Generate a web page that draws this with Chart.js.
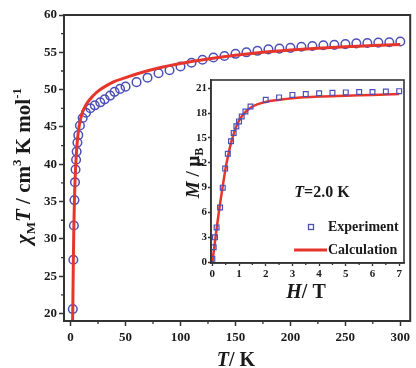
<!DOCTYPE html>
<html>
<head>
<meta charset="utf-8">
<script src="https://cdn.jsdelivr.net/npm/chart.js@4/dist/chart.umd.min.js"></script>
<style>
  html, body { margin: 0; padding: 0; background: #fff; }
  #wrap { position: relative; width: 416px; height: 368px; }
  #main { position: absolute; left: 0; top: 0; }
  #inset { position: absolute; left: 170px; top: 70px; }
</style>
</head>
<body>
<div id="wrap">
  <canvas id="main" width="416" height="368"></canvas>
  <canvas id="inset" width="240" height="235"></canvas>
</div>
<script>
// ---- Main plot: chi_M T vs T ----
const expT   = [2, 2.5, 3, 3.5, 4, 4.5, 5, 5.5, 6.2, 7, 8.5, 11, 14, 18, 22, 27, 31, 36, 40, 45, 50,
                60, 70, 80, 90, 100, 110, 120, 130, 140, 150, 160, 170, 180, 190, 200,
                210, 220, 230, 240, 250, 260, 270, 280, 290, 300];
const expChi = [20.6, 27.2, 31.8, 35.2, 37.6, 39.3, 40.6, 41.7, 42.9, 43.9, 45.2, 46.2, 46.9, 47.5, 47.9, 48.3, 48.7, 49.2, 49.7, 50.1, 50.4,
                51.0, 51.6, 52.2, 52.6, 53.1, 53.6, 54.0, 54.3, 54.5, 54.8, 55.0, 55.2, 55.4, 55.5, 55.6,
                55.75, 55.85, 55.95, 56.0, 56.1, 56.2, 56.25, 56.3, 56.35, 56.45];
const calcT   = [1.8, 2, 2.5, 3, 3.5, 4, 4.5, 5, 6, 7, 8, 10, 12, 15, 20, 25, 30, 40, 50, 60, 80,
                 100, 125, 150, 175, 200, 225, 250, 275, 300];
const calcChi = [19.0, 20.6, 27.0, 31.9, 35.2, 37.6, 39.4, 40.8, 42.9, 44.3, 45.3, 46.6, 47.4, 48.2, 49.1, 49.8, 50.3, 51.1, 51.6, 52.1, 52.9,
                 53.5, 54.1, 54.6, 55.0, 55.3, 55.55, 55.75, 55.9, 56.05];

// ---- Inset: M vs H at 2.0 K ----
const fieldExp = [0, 0.05, 0.1, 0.16, 0.29, 0.39, 0.48, 0.58, 0.7, 0.8, 0.9, 1.0, 1.1, 1.24, 1.43,
                  2, 2.5, 3, 3.5, 4, 4.5, 5, 5.5, 6, 6.5, 7];
const magExp   = [0.4, 1.8, 3.0, 4.2, 6.6, 9.0, 11.3, 13.1, 14.6, 15.6, 16.4, 17.0, 17.6, 18.2, 18.8,
                  19.6, 19.9, 20.2, 20.3, 20.4, 20.45, 20.5, 20.55, 20.55, 20.6, 20.65];
const fieldCalc = [0, 0.1, 0.2, 0.3, 0.4, 0.5, 0.6, 0.7, 0.8, 0.9, 1.0, 1.2, 1.5, 2, 2.5, 3, 4, 5, 6, 7];
const magCalc   = [0, 2.5, 5.0, 7.3, 9.4, 11.4, 13.0, 14.4, 15.5, 16.4, 17.1, 18.0, 18.8, 19.35, 19.6, 19.8, 20.0, 20.1, 20.2, 20.3];

const BLUE = '#4c50b6';
const RED = '#e6352b';
const AXIS = '#333333';
const SERIF = '"Liberation Serif", "Times New Roman", serif';
Chart.defaults.font.family = SERIF;
Chart.defaults.color = '#1a1a1a';

function pts(xs, ys) { return xs.map((x, i) => ({ x: x, y: ys[i] })); }

function drawRich(ctx, x, y, segs) {
  let total = 0;
  segs.forEach(s => { ctx.font = s.f; total += ctx.measureText(s.t).width + (s.gap || 0); });
  let cx = x - total / 2;
  ctx.textBaseline = 'alphabetic';
  ctx.textAlign = 'left';
  segs.forEach(s => {
    ctx.font = s.f;
    ctx.fillText(s.t, cx, y + (s.dy || 0));
    cx += ctx.measureText(s.t).width + (s.gap || 0);
  });
}

function minorTicks(ctx, chart, xs, ys, len) {
  const xa = chart.scales.x, ya = chart.scales.y, a = chart.chartArea;
  ctx.save();
  ctx.strokeStyle = AXIS; ctx.lineWidth = 1.3;
  ctx.beginPath();
  xs.forEach(v => { const p = xa.getPixelForValue(v); ctx.moveTo(p, a.bottom); ctx.lineTo(p, a.bottom + len); });
  ys.forEach(v => { const p = ya.getPixelForValue(v); ctx.moveTo(a.left, p); ctx.lineTo(a.left - len, p); });
  ctx.stroke();
  ctx.restore();
}

function fitX(h) { return s => { s.height = h; s.paddingLeft = 0; s.paddingRight = 0; }; }
function fitY(w) { return s => { s.width = w; s.paddingTop = 0; s.paddingBottom = 0; }; }

const mainExtras = {
  id: 'mainExtras',
  afterDatasetsDraw(chart) {
    const ctx = chart.ctx, a = chart.chartArea;
    ctx.save();
    ctx.strokeStyle = AXIS; ctx.lineWidth = 2;
    ctx.strokeRect(a.left, a.top, a.right - a.left, a.bottom - a.top);
    ctx.restore();
    minorTicks(ctx, chart, [25, 75, 125, 175, 225, 275], [22.5, 27.5, 32.5, 37.5, 42.5, 47.5, 52.5, 57.5], 3);
  },
  afterDraw(chart) {
    const ctx = chart.ctx;
    ctx.save();
    ctx.fillStyle = '#1a1a1a';
    drawRich(ctx, 236, 366, [
      { t: 'T', f: 'italic bold 20px ' + SERIF },
      { t: '/ K', f: 'bold 20px ' + SERIF }
    ]);
    ctx.translate(30, 166);
    ctx.rotate(-Math.PI / 2);
    drawRich(ctx, 0, 0, [
      { t: 'χ', f: 'italic bold 21px ' + SERIF },
      { t: 'M', f: 'bold 13px ' + SERIF, dy: 5 },
      { t: 'T', f: 'italic bold 21px ' + SERIF },
      { t: ' / cm', f: 'bold 21px ' + SERIF },
      { t: '3', f: 'bold 13px ' + SERIF, dy: -9 },
      { t: ' K mol', f: 'bold 21px ' + SERIF },
      { t: '-1', f: 'bold 13px ' + SERIF, dy: -9 }
    ]);
    ctx.restore();
  }
};

new Chart(document.getElementById('main'), {
  type: 'scatter',
  data: {
    datasets: [
      { label: 'Experiment', data: pts(expT, expChi), showLine: false, order: 1,
        pointStyle: 'circle', pointRadius: 4.3, pointBorderWidth: 1.5,
        borderColor: BLUE, backgroundColor: 'rgba(0,0,0,0)' },
      { label: 'Calculation', data: pts(calcT, calcChi), showLine: true, order: 0,
        pointRadius: 0, borderColor: RED, borderWidth: 3, cubicInterpolationMode: 'monotone',
        backgroundColor: RED }
    ]
  },
  options: {
    responsive: false, animation: false, devicePixelRatio: 1,
    layout: { padding: { left: 0, right: 1, top: 15, bottom: 0 } },
    plugins: { legend: { display: false }, tooltip: { enabled: false } },
    scales: {
      x: {
        type: 'linear', min: -6, max: 309,
        afterFit: fitX(47),
        ticks: { stepSize: 50, includeBounds: false, padding: 4, font: { size: 13, weight: 'bold' }, color: '#1a1a1a' },
        grid: { display: true, drawOnChartArea: false, drawTicks: true, tickLength: 5, tickWidth: 1.5, tickColor: AXIS },
        border: { display: true, color: AXIS, width: 2 }
      },
      y: {
        type: 'linear', min: 19, max: 60,
        afterFit: fitY(64),
        ticks: { stepSize: 5, includeBounds: false, padding: 2, font: { size: 13, weight: 'bold' }, color: '#1a1a1a' },
        grid: { display: true, drawOnChartArea: false, drawTicks: true, tickLength: 5, tickWidth: 1.5, tickColor: AXIS },
        border: { display: true, color: AXIS, width: 2 }
      }
    }
  },
  plugins: [mainExtras]
});

const insetExtras = {
  id: 'insetExtras',
  beforeDraw(chart) {
    const ctx = chart.ctx, a = chart.chartArea;
    ctx.save(); ctx.fillStyle = '#fff';
    ctx.fillRect(a.left, a.top, a.right - a.left, a.bottom - a.top);
    ctx.restore();
  },
  afterDatasetsDraw(chart) {
    const ctx = chart.ctx, a = chart.chartArea;
    ctx.save();
    ctx.strokeStyle = AXIS; ctx.lineWidth = 1.6;
    ctx.strokeRect(a.left, a.top, a.right - a.left, a.bottom - a.top);
    ctx.restore();
    minorTicks(ctx, chart, [0.5, 1.5, 2.5, 3.5, 4.5, 5.5, 6.5], [], 2);
  },
  afterDraw(chart) {
    const ctx = chart.ctx, ox = 170, oy = 70;
    ctx.save();
    ctx.fillStyle = '#1a1a1a';
    drawRich(ctx, 306 - ox, 298 - oy, [
      { t: 'H', f: 'italic bold 20px ' + SERIF },
      { t: '/ T', f: 'bold 20px ' + SERIF }
    ]);
    drawRich(ctx, 322 - ox, 197 - oy, [
      { t: 'T', f: 'italic bold 16px ' + SERIF },
      { t: '=2.0 K', f: 'bold 16px ' + SERIF }
    ]);
    const ds0 = chart.data.datasets[0], ds1 = chart.data.datasets[1];
    ctx.strokeStyle = ds0.borderColor; ctx.lineWidth = 1.3;
    ctx.strokeRect(311 - ox - 2.5, 227 - oy - 2.5, 5, 5);
    ctx.strokeStyle = ds1.borderColor; ctx.lineWidth = 3;
    ctx.beginPath(); ctx.moveTo(294 - ox, 250 - oy); ctx.lineTo(327 - ox, 250 - oy); ctx.stroke();
    ctx.font = 'bold 14px ' + SERIF; ctx.textAlign = 'left'; ctx.textBaseline = 'middle';
    ctx.fillText(ds0.label, 328 - ox, 227 - oy);
    ctx.fillText(ds1.label, 328 - ox, 250 - oy);
    ctx.translate(199 - ox, 173 - oy);
    ctx.rotate(-Math.PI / 2);
    drawRich(ctx, 0, 0, [
      { t: 'M', f: 'italic bold 19px ' + SERIF },
      { t: ' / μ', f: 'bold 19px ' + SERIF },
      { t: 'B', f: 'bold 12px ' + SERIF, dy: 4 }
    ]);
    ctx.restore();
  }
};

new Chart(document.getElementById('inset'), {
  type: 'scatter',
  data: {
    datasets: [
      { label: 'Experiment', data: pts(fieldExp, magExp), showLine: false, order: 0,
        pointStyle: 'rect', pointRadius: 3.4, pointBorderWidth: 1.2,
        borderColor: BLUE, backgroundColor: 'rgba(0,0,0,0)' },
      { label: 'Calculation', data: pts(fieldCalc, magCalc), showLine: true, order: 1,
        pointRadius: 0, borderColor: RED, borderWidth: 2.5, cubicInterpolationMode: 'monotone',
        backgroundColor: RED }
    ]
  },
  options: {
    responsive: false, animation: false, devicePixelRatio: 1,
    layout: { padding: { left: 0, right: 6, top: 10, bottom: 0 } },
    plugins: { legend: { display: false }, tooltip: { enabled: false } },
    scales: {
      x: {
        type: 'linear', min: -0.05, max: 7.18,
        afterFit: fitX(42),
        ticks: { stepSize: 1, includeBounds: false, padding: 2, font: { size: 11, weight: 'bold' }, color: '#1a1a1a' },
        grid: { display: true, drawOnChartArea: false, drawTicks: true, tickLength: 3, tickWidth: 1.3, tickColor: AXIS },
        border: { display: true, color: AXIS, width: 1.6 }
      },
      y: {
        type: 'linear', min: -0.1, max: 22,
        afterFit: fitY(41),
        ticks: { stepSize: 3, includeBounds: false, padding: 1, font: { size: 11, weight: 'bold' }, color: '#1a1a1a' },
        grid: { display: true, drawOnChartArea: false, drawTicks: true, tickLength: 3, tickWidth: 1.3, tickColor: AXIS },
        border: { display: true, color: AXIS, width: 1.6 }
      }
    }
  },
  plugins: [insetExtras]
});
</script>
</body>
</html>
